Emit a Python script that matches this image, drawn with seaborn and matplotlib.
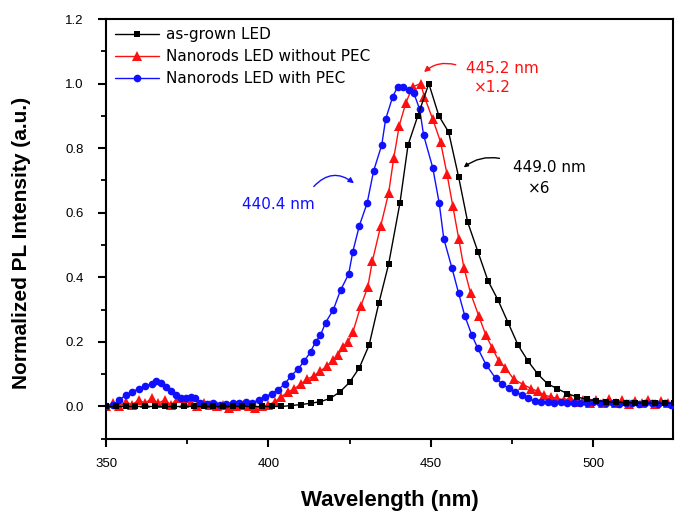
import matplotlib
matplotlib.use("Agg")
import matplotlib.pyplot as plt
import seaborn as sns
import pandas as pd
from matplotlib.ticker import MultipleLocator

# ---- data ----
black_x = [350, 353, 356, 359, 362, 365, 368, 371, 374, 377, 380, 383, 386, 389, 392, 395, 398,
           401, 404, 407, 410, 413, 416, 419, 422, 425, 428, 431, 434, 437, 440.5, 443, 446,
           449.4, 452.5, 455.5, 458.6, 461.4, 464.5, 467.6, 470.7, 473.8, 476.9, 480, 483,
           486, 489, 492, 495, 498, 501, 504, 507, 510, 513, 516, 519, 522, 525]
black_y = [0.0, 0.0, 0.0, 0.0, 0.0, 0.0, 0.0, 0.0, 0.0, 0.0, 0.0, 0.0, 0.0, 0.0, 0.0, 0.0, 0.0,
           0.0, 0.0, 0.003, 0.006, 0.01, 0.015, 0.025, 0.045, 0.075, 0.12, 0.19, 0.32, 0.44,
           0.63, 0.81, 0.90, 1.0, 0.90, 0.85, 0.71, 0.57, 0.48, 0.39, 0.33, 0.26, 0.19, 0.14,
           0.10, 0.07, 0.055, 0.04, 0.03, 0.022, 0.018, 0.015, 0.013, 0.012, 0.011, 0.01,
           0.01, 0.01, 0.01]

red_x = [350, 352, 354, 356, 358, 360, 362, 364, 366, 368, 370, 372, 374, 376, 378, 380, 382,
         384, 386, 388, 390, 392, 394, 396, 398, 400, 402, 404, 406, 408, 410, 412, 414, 416,
         418, 420, 421.5, 423, 424.5, 426, 428.4, 430.6, 432, 434.6, 437, 438.6, 440.3, 442.3,
         444.4, 446.9, 448, 450.6, 453, 455, 456.8, 458.6, 460.2, 462.3, 464.8, 467, 469, 471,
         473, 475.5, 478.5, 481, 483, 485, 487, 489, 491, 493, 495, 497, 499, 501, 503, 505,
         507, 509, 511, 513, 515, 517, 519, 521, 523, 525]
red_y = [0.0, 0.01, 0.0, 0.015, 0.005, 0.02, 0.01, 0.025, 0.01, 0.02, 0.005, 0.025, 0.01,
         0.015, 0.0, 0.01, 0.005, 0.0, 0.005, -0.005, 0.0, 0.005, 0.0, -0.005, 0.0, 0.005,
         0.015, 0.03, 0.045, 0.055, 0.07, 0.085, 0.095, 0.11, 0.125, 0.145, 0.16, 0.185, 0.20,
         0.23, 0.31, 0.37, 0.45, 0.56, 0.66, 0.77, 0.87, 0.94, 0.99, 1.0, 0.96, 0.89, 0.82,
         0.72, 0.62, 0.52, 0.43, 0.35, 0.28, 0.22, 0.18, 0.14, 0.12, 0.085, 0.068, 0.055,
         0.047, 0.035, 0.03, 0.025, 0.02, 0.025, 0.015, 0.02, 0.01, 0.02, 0.012, 0.022, 0.01,
         0.02, 0.008, 0.018, 0.01, 0.02, 0.008, 0.018, 0.01, 0.015]

blue_x = [350, 352, 354, 356, 358, 360, 362, 364, 365.5, 367, 368.5, 370, 371.5, 373, 374.5,
          376, 377.5, 379, 381, 383, 385, 387, 389, 391, 393, 395, 397, 399, 401, 403, 405,
          407, 409, 411, 413, 414.5, 416, 417.6, 420, 422.2, 424.7, 426, 428, 430.4, 432.4,
          434.9, 436.1, 438.3, 439.8, 441.4, 443.2, 444.8, 446.6, 447.8, 450.6, 452.6, 454,
          456.5, 458.6, 460.5, 462.7, 464.5, 467, 470, 472, 474, 476, 478, 480, 482, 484, 486,
          488, 490, 492, 494, 496, 498, 500, 502, 504, 506, 508, 510, 512, 514, 516, 518, 520,
          522, 524]
blue_y = [0.0, 0.005, 0.02, 0.035, 0.045, 0.055, 0.062, 0.07, 0.078, 0.072, 0.06, 0.048,
          0.035, 0.027, 0.025, 0.03, 0.025, 0.012, 0.008, 0.01, 0.006, 0.008, 0.012, 0.01,
          0.015, 0.012, 0.02, 0.03, 0.04, 0.052, 0.07, 0.095, 0.115, 0.14, 0.17, 0.20, 0.22,
          0.26, 0.30, 0.36, 0.41, 0.48, 0.56, 0.63, 0.73, 0.81, 0.89, 0.96, 0.99, 0.99, 0.98,
          0.97, 0.92, 0.84, 0.74, 0.63, 0.52, 0.43, 0.35, 0.28, 0.22, 0.18, 0.13, 0.087, 0.07,
          0.056, 0.045, 0.037, 0.025, 0.016, 0.015, 0.013, 0.012, 0.015, 0.012, 0.01, 0.012,
          0.01, 0.013, 0.01, 0.012, 0.01, 0.008, 0.01, 0.012, 0.008, 0.01, 0.012, 0.008,
          0.01, 0.006]

labels = ["as-grown LED", "Nanorods LED without PEC", "Nanorods LED with PEC"]
x_ticks = [350, 400, 450, 500]
y_ticks = [0.0, 0.2, 0.4, 0.6, 0.8, 1.0, 1.2]

# ---- plot ----
sns.set_style("ticks", {"axes.edgecolor": "black", "text.color": "black",
                        "xtick.color": "black", "ytick.color": "black",
                        "axes.labelcolor": "black"})
plt.rcParams['font.family'] = ['Liberation Sans', 'DejaVu Sans']

fig = plt.figure(figsize=(6.76, 5.15), dpi=100)
ax = fig.add_axes([0.157, 0.148, 0.838, 0.815])

df_b = pd.DataFrame({"x": black_x, "y": black_y})
df_r = pd.DataFrame({"x": red_x, "y": red_y})
df_bl = pd.DataFrame({"x": blue_x, "y": blue_y})

sns.lineplot(data=df_r, x="x", y="y", ax=ax, color="#ff1010", marker="^", markersize=7,
             markeredgewidth=0, linewidth=1.0, label=labels[1], sort=False, zorder=2)
sns.lineplot(data=df_bl, x="x", y="y", ax=ax, color="#1010ff", marker="o", markersize=5.5,
             markeredgewidth=0, linewidth=1.0, label=labels[2], sort=False, zorder=3)
sns.lineplot(data=df_b, x="x", y="y", ax=ax, color="black", marker="s", markersize=5,
             markeredgewidth=0, linewidth=1.0, label=labels[0], sort=False, zorder=4)

ax.set_xlim(350, 524.5)
ax.set_ylim(-0.1, 1.2)
ax.set_xticks(x_ticks)
ax.set_yticks(y_ticks)
ax.set_yticklabels([f"{v:.1f}" for v in y_ticks])
ax.xaxis.set_minor_locator(MultipleLocator(25))
ax.yaxis.set_minor_locator(MultipleLocator(0.1))
ax.tick_params(which="major", direction="out", length=6, width=1.5, labelsize=9.5,
               colors="black")
ax.tick_params(axis="y", which="major", pad=10)
ax.tick_params(axis="x", which="major", pad=8)
ax.tick_params(which="minor", direction="out", length=3.5, width=1.3, colors="black")
for s in ax.spines.values():
    s.set_linewidth(1.5)
    s.set_color("black")
    s.set_visible(True)

ax.set_xlabel("Wavelength (nm)", fontsize=16, fontweight="bold", color="black")
ax.xaxis.set_label_coords(0.5, -0.122)
ax.set_ylabel("Normalized PL Intensity (a.u.)", fontsize=15, fontweight="bold", color="black")
ax.yaxis.set_label_coords(-0.133, 0.466)

handles, labs = ax.get_legend_handles_labels()
order = [labs.index(l) for l in labels]
ax.legend([handles[i] for i in order], [labs[i] for i in order], loc="upper left",
          frameon=False, prop={"family": "DejaVu Sans", "size": 11}, handlelength=2.9,
          handletextpad=0.5, labelspacing=0.45, borderaxespad=0.35, borderpad=0.2,
          labelcolor="black")

ann = {"family": "DejaVu Sans", "size": 11}
ax.annotate("", xy=(447.3, 1.03), xytext=(458.5, 1.056),
            arrowprops=dict(arrowstyle="-|>", color="#ff1010", lw=1.0, mutation_scale=8,
                            connectionstyle="arc3,rad=0.3"))
ax.text(472.0, 1.047, "445.2 nm", color="#ff1010", ha="center", va="center", **ann)
ax.text(469.0, 0.988, "\u00d71.2", color="#ff1010", ha="center", va="center", **ann)

ax.annotate("", xy=(459.5, 0.735), xytext=(472, 0.767),
            arrowprops=dict(arrowstyle="-|>", color="black", lw=1.0, mutation_scale=6,
                            connectionstyle="arc3,rad=0.25"))
ax.text(486.5, 0.739, "449.0 nm", color="black", ha="center", va="center", **ann)
ax.text(483.4, 0.674, "\u00d76", color="black", ha="center", va="center", **ann)

ax.annotate("", xy=(427, 0.686), xytext=(413.4, 0.675),
            arrowprops=dict(arrowstyle="-|>", color="#1010ff", lw=1.0, mutation_scale=8,
                            connectionstyle="arc3,rad=-0.5"))
ax.text(403.0, 0.627, "440.4 nm", color="#1010ff", ha="center", va="center", **ann)

fig.savefig("out.png", dpi=100)
